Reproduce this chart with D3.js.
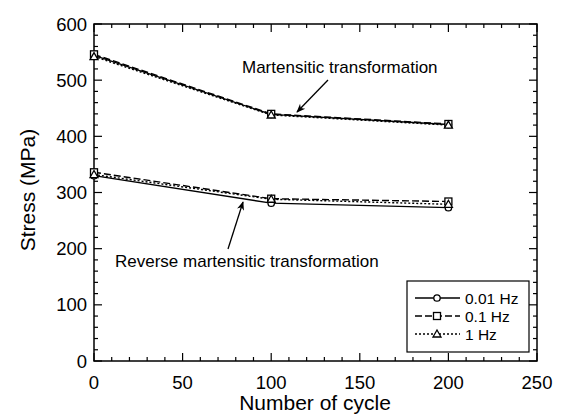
<!DOCTYPE html>
<html>
<head>
<meta charset="utf-8">
<script src="https://cdn.jsdelivr.net/npm/d3@7"></script>
<style>
  body { margin: 0; background: #fff; }
  text { font-family: "Liberation Sans", Arial, sans-serif; fill: #000; }
</style>
</head>
<body>
<svg id="chart" width="561" height="419"></svg>
<script>
// Stress vs. number of cycles at three loading frequencies
const cycles = [0, 100, 200];
const seriesNames = ["0.01 Hz", "0.1 Hz", "1 Hz"];
const markers = ["circle", "square", "triangle"];
const dashes = [null, "7,3", "2,2"];

// Martensitic transformation stress
const upper001 = [544, 439, 421];
const upper01 = [546, 440, 422];
const upper1 = [542, 438, 420];
// Reverse martensitic transformation stress
const lower001 = [330, 281, 273];
const lower01 = [336, 289, 284];
const lower1 = [332, 288, 279];

const xTicks = [0, 50, 100, 150, 200, 250];
const yTicks = [0, 100, 200, 300, 400, 500, 600];

const svg = d3.select("#chart");
const pL = 94, pR = 537, pT = 24, pB = 361;

const x = d3.scaleLinear().domain([0, 250]).range([pL, pR]);
const y = d3.scaleLinear().domain([0, 600]).range([pB, pT]);

// frame
svg.append("rect").attr("x", pL).attr("y", pT)
  .attr("width", pR - pL).attr("height", pB - pT)
  .attr("fill", "none").attr("stroke", "#000").attr("stroke-width", 1.5);

// inward ticks on all four sides
const g = svg.append("g").attr("stroke", "#000").attr("stroke-width", 1.2);
d3.range(0, 251, 10).forEach(v => {
  const len = v % 50 === 0 ? 8 : 4;
  g.append("line").attr("x1", x(v)).attr("x2", x(v)).attr("y1", pB).attr("y2", pB - len);
  g.append("line").attr("x1", x(v)).attr("x2", x(v)).attr("y1", pT).attr("y2", pT + len);
});
d3.range(0, 601, 20).forEach(v => {
  const len = v % 100 === 0 ? 8 : 4;
  g.append("line").attr("y1", y(v)).attr("y2", y(v)).attr("x1", pL).attr("x2", pL + len);
  g.append("line").attr("y1", y(v)).attr("y2", y(v)).attr("x1", pR).attr("x2", pR - len);
});

// tick labels
svg.selectAll(".xl").data(xTicks).enter().append("text")
  .attr("x", d => x(d)).attr("y", 389).attr("text-anchor", "middle")
  .attr("font-size", 18.5).text(d => d);
svg.selectAll(".yl").data(yTicks).enter().append("text")
  .attr("x", 87).attr("y", d => y(d) + 6.5).attr("text-anchor", "end")
  .attr("font-size", 18.5).text(d => d);

// axis titles
svg.append("text").attr("x", 315).attr("y", 410)
  .attr("text-anchor", "middle").attr("font-size", 21).text("Number of cycle");
svg.append("text").attr("transform", `translate(35,190) rotate(-90)`)
  .attr("text-anchor", "middle").attr("font-size", 21).text("Stress (MPa)");

const line = d3.line().x((d, i) => x(cycles[i])).y(d => y(d));

function drawMarker(sel, type, cx, cy) {
  if (type === "circle") {
    sel.append("circle").attr("cx", cx).attr("cy", cy).attr("r", 3.2)
      .attr("fill", "#fff").attr("stroke", "#000").attr("stroke-width", 1.3);
  } else if (type === "square") {
    sel.append("rect").attr("x", cx - 3.5).attr("y", cy - 3.5).attr("width", 7).attr("height", 7)
      .attr("fill", "#fff").attr("stroke", "#000").attr("stroke-width", 1.3);
  } else {
    const s = 4;
    sel.append("path").attr("d", `M${cx},${cy - s}L${cx + s},${cy + s * 0.75}L${cx - s},${cy + s * 0.75}Z`)
      .attr("fill", "#fff").attr("stroke", "#000").attr("stroke-width", 1.3);
  }
}

const groups = [[upper001, upper01, upper1], [lower001, lower01, lower1]];
groups.forEach(set => {
  set.forEach((vals, k) => {
    svg.append("path").datum(vals).attr("d", line)
      .attr("fill", "none").attr("stroke", "#000").attr("stroke-width", 1.4)
      .attr("stroke-dasharray", dashes[k]);
  });
  set.forEach((vals, k) => {
    vals.forEach((v, i) => drawMarker(svg, markers[k], x(cycles[i]), y(v)));
  });
});

// annotations with arrows
svg.append("defs").append("marker").attr("id", "ah")
  .attr("viewBox", "0 0 10 10").attr("refX", 9).attr("refY", 5)
  .attr("markerWidth", 11).attr("markerHeight", 9).attr("orient", "auto")
  .attr("markerUnits", "userSpaceOnUse")
  .append("path").attr("d", "M0,1L10,5L0,9L3,5Z").attr("fill", "#000");

svg.append("text").attr("x", 242).attr("y", 73).attr("font-size", 17)
  .text("Martensitic transformation");
svg.append("line").attr("x1", 328).attr("y1", 80).attr("x2", 297).attr("y2", 112)
  .attr("stroke", "#000").attr("stroke-width", 1.3).attr("marker-end", "url(#ah)");

svg.append("text").attr("x", 115).attr("y", 267).attr("font-size", 17)
  .text("Reverse martensitic transformation");
svg.append("line").attr("x1", 228).attr("y1", 249).attr("x2", 243).attr("y2", 202)
  .attr("stroke", "#000").attr("stroke-width", 1.3).attr("marker-end", "url(#ah)");

// legend
const lg = svg.append("g");
lg.append("rect").attr("x", 407).attr("y", 281).attr("width", 122).attr("height", 71)
  .attr("fill", "#fff").attr("stroke", "#000").attr("stroke-width", 1.2);
const rowY = [298, 316, 334];
seriesNames.forEach((name, k) => {
  lg.append("line").attr("x1", 415).attr("x2", 460).attr("y1", rowY[k]).attr("y2", rowY[k])
    .attr("stroke", "#000").attr("stroke-width", 1.3).attr("stroke-dasharray", dashes[k]);
  drawMarker(lg, markers[k], 437, rowY[k]);
  lg.append("text").attr("x", 465).attr("y", rowY[k] + 5.5).attr("font-size", 15.5).text(name);
});
</script>
</body>
</html>
